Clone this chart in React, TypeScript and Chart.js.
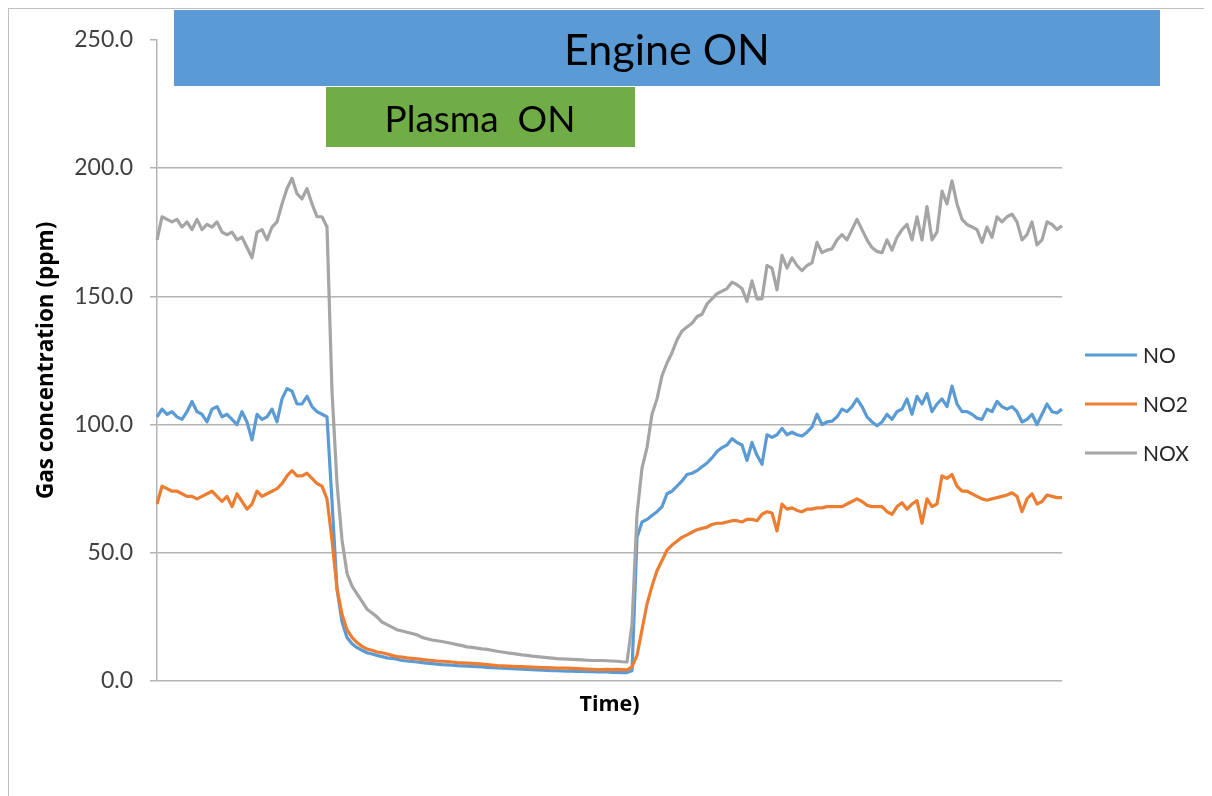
import React, { useEffect, useRef } from "react";
import { Chart, registerables } from "chart.js";

Chart.register(...registerables);

// ---- Data ----
const SERIES_NAMES = ["NO", "NO2", "NOX"];
const SERIES_COLORS = ["#5B9BD5", "#ED7D31", "#A5A5A5"];

const NO = [
  103, 106, 104, 105, 103, 102, 105, 109, 105, 104,
  101, 106, 107, 103, 104, 102, 100, 105, 101, 94,
  104, 102, 103, 106, 101, 110, 114, 113, 108, 108,
  111, 107, 105, 104, 103, 70, 36, 23, 17, 14.5,
  13, 12, 11, 10.5, 10, 9.5, 9, 8.8, 8.5, 8,
  7.8, 7.6, 7.4, 7.2, 7, 6.8, 6.6, 6.4, 6.3, 6.2,
  6, 5.9, 5.8, 5.7, 5.6, 5.5, 5.3, 5.2, 5.1, 5,
  4.9, 4.8, 4.7, 4.6, 4.5, 4.4, 4.3, 4.2, 4.1, 4,
  4, 3.9, 3.8, 3.8, 3.7, 3.7, 3.6, 3.6, 3.5, 3.5,
  3.5, 3.4, 3.4, 3.3, 3.3, 4, 56, 62, 63, 64.5,
  66, 68, 73, 74, 76, 78, 80.5, 81, 82, 83.5,
  85, 87, 89.5, 91, 92, 94.5, 93, 92, 86, 93,
  88, 84.5, 96, 95, 96, 98.5, 96, 97, 96, 95.5,
  97, 99, 104, 100, 101, 101.3, 103, 106, 105, 107,
  110, 107, 103, 101, 99.5, 101, 104, 102, 105, 106,
  110, 104, 111, 108, 112, 105, 108, 110, 107, 115,
  108, 105, 105, 104, 102.5, 102, 106, 105, 109, 107,
  106, 107, 105, 101, 102, 104, 100, 104, 108, 105,
  104.5, 106,
];

const NO2 = [
  69, 76, 75, 74, 74, 73, 72, 72, 71, 72,
  73, 74, 72, 70, 72, 68, 73, 70, 67, 69,
  74, 72, 73, 74, 75, 77, 80, 82, 80, 80,
  81, 79, 77, 76, 71, 55, 36, 26, 20, 17,
  15, 13.5, 12.5, 12, 11.3, 11, 10.5, 10, 9.5, 9.3,
  9, 8.8, 8.6, 8.4, 8.2, 8, 7.8, 7.7, 7.6, 7.4,
  7.2, 7.1, 7, 6.9, 6.8, 6.6, 6.4, 6.2, 6, 5.9,
  5.8, 5.7, 5.6, 5.6, 5.5, 5.4, 5.3, 5.2, 5.2, 5.1,
  5, 5, 5, 4.9, 4.8, 4.7, 4.6, 4.5, 4.4, 4.4,
  4.5, 4.4, 4.5, 4.4, 4.3, 5.5, 10, 20, 30, 37,
  43, 47, 51, 53, 54.5, 56, 57, 58, 59, 59.5,
  60, 61, 61.5, 61.5, 62, 62.5, 62.5, 62, 63, 63,
  62.5, 65, 66, 65.5, 58.5, 69, 67, 67.5, 66.5, 66,
  67, 67, 67.5, 67.5, 68, 68, 68, 68, 69, 70,
  71, 70, 68.5, 68, 68, 68, 66, 65, 68, 69.5,
  67, 69, 70.3, 61.5, 71, 68, 69, 80, 79, 80.5,
  76, 74, 74, 73, 72, 71, 70.5, 71, 71.5, 72,
  72.5, 73.4, 72, 66, 71, 73, 69, 70, 72.5, 72,
  71.5, 71.5,
];

const NOX = [
  172, 181, 180, 179, 180, 177, 179, 176, 180, 176,
  178, 177, 179, 175, 174, 175, 172, 173, 169, 165,
  175, 176, 172, 177, 179, 186, 192, 196, 190, 188,
  192, 186, 181, 181, 177, 113, 77, 55, 42, 37,
  34, 31, 28, 26.5, 25, 23, 22, 21, 20, 19.5,
  19, 18.5, 18, 17, 16.5, 16, 15.7, 15.4, 15, 14.6,
  14.2, 13.8, 13.3, 13.1, 12.8, 12.5, 12.3, 12, 11.6, 11.3,
  11, 10.8, 10.5, 10.2, 10, 9.7, 9.5, 9.3, 9.1, 8.9,
  8.7, 8.6, 8.5, 8.4, 8.3, 8.2, 8.1, 8, 8, 8,
  7.9, 7.8, 7.7, 7.5, 7.4, 22, 65, 83, 91, 104,
  110, 119, 124, 128, 133, 136.5, 138, 139.5, 142, 143,
  147, 149, 151, 152, 153, 155.5, 154.5, 153, 148, 156,
  149, 149, 162, 161, 152.5, 166, 161, 165, 162, 160,
  162, 163, 171, 167, 168, 168.5, 172, 174, 172, 176,
  180, 176, 172, 169, 167.5, 167, 172, 168, 173, 176,
  178, 172, 181, 172, 185, 172, 175, 191, 186, 195,
  186, 180, 178, 177, 176, 171, 177, 173, 181, 179,
  181, 182, 179, 172, 174, 179, 170, 172, 179, 178,
  176, 177.5,
];

const TIME = NO.map((_, i) => String(i + 1));
const Y_TICKS = [0, 50, 100, 150, 200, 250];
const X_TITLE = "Time)";
const Y_TITLE = "Gas concentration (ppm)";
const ENGINE_LABEL = "Engine ON";
const PLASMA_LABEL = "Plasma  ON";

const FONT = "Lato";
const TITLE_FONT = "'Open Sans'";
const GRID = "#B4B4B4";

const overlayPlugin = {
  id: "overlayBoxes",
  afterDraw(chart: any) {
    const ctx = chart.ctx as CanvasRenderingContext2D;
    ctx.save();
    // Engine ON box
    ctx.fillStyle = "#5B9BD5";
    ctx.fillRect(165, 1, 986, 76);
    // Plasma ON box
    ctx.fillStyle = "#70AD47";
    ctx.fillRect(317, 78, 309, 60);
    ctx.fillStyle = "#000000";
    ctx.textAlign = "center";
    ctx.textBaseline = "alphabetic";
    ctx.font = `43px ${FONT}`;
    ctx.fillText(ENGINE_LABEL, 658, 56);
    ctx.font = `37px ${FONT}`;
    ctx.fillText(PLASMA_LABEL, 471, 123);

    // Legend
    chart.data.datasets.forEach((ds: any, i: number) => {
      const y = 346 + i * 49;
      ctx.strokeStyle = ds.borderColor;
      ctx.lineWidth = 3;
      ctx.lineCap = "butt";
      ctx.beginPath();
      ctx.moveTo(1076, y);
      ctx.lineTo(1128, y);
      ctx.stroke();
      ctx.fillStyle = "#262626";
      ctx.textAlign = "left";
      ctx.textBaseline = "middle";
      ctx.font = `21px ${FONT}`;
      ctx.fillText(ds.label, 1134, y + 1);
    });
    ctx.restore();
  },
};

export default function App() {
  const ref = useRef<HTMLCanvasElement>(null);

  useEffect(() => {
    if (!ref.current) return;
    const seriesData = [NO, NO2, NOX];
    const chart = new Chart(ref.current, {
      type: "line",
      data: {
        labels: TIME,
        datasets: SERIES_NAMES.map((name, i) => ({
          label: name,
          data: seriesData[i],
          borderColor: SERIES_COLORS[i],
          backgroundColor: SERIES_COLORS[i],
          borderWidth: 3.2,
          pointRadius: 0,
          tension: 0,
          fill: false,
          borderJoinStyle: "round" as const,
          order: 3 - i,
        })),
      },
      options: {
        animation: false,
        responsive: false,
        layout: { padding: { left: 0, right: 150, top: 28, bottom: 0 } },
        plugins: {
          legend: { display: false },
          tooltip: { enabled: false },
        },
        scales: {
          x: {
            type: "category",
            offset: false,
            grid: { display: false },
            border: { display: false },
            ticks: { display: false },
            title: {
              display: true,
              text: X_TITLE,
              color: "#000000",
              font: { family: TITLE_FONT, size: 21.5, weight: "bold" },
              padding: { top: 0, bottom: 78 },
            },
            afterFit: (s: any) => {
              s.height = 115;
            },
          },
          y: {
            min: 0,
            max: 250,
            afterBuildTicks: (s: any) => {
              s.ticks = Y_TICKS.map((v) => ({ value: v }));
            },
            ticks: {
              callback: (v: any) => Number(v).toFixed(1),
              color: "#404040",
              font: { family: FONT, size: 23 },
              padding: 17,
            },
            grid: {
              color: (c: any) =>
                c.tick && c.tick.value === 250 ? "rgba(0,0,0,0)" : GRID,
              tickColor: GRID,
              tickLength: 7,
              lineWidth: 1.5,
            },
            border: { display: true, color: GRID, width: 1.5 },
            title: {
              display: true,
              text: Y_TITLE,
              color: "#000000",
              font: { family: TITLE_FONT, size: 22.5, weight: "bold" },
              padding: { top: 24, bottom: 0 },
            },
            afterFit: (s: any) => {
              s.width = 148;
            },
          },
        },
      },
      plugins: [overlayPlugin],
    });
    return () => chart.destroy();
  }, []);

  return (
    <div
      style={{
        width: 1204,
        height: 788,
        boxSizing: "border-box",
        borderLeft: "1px solid #BFBFBF",
        borderTop: "1px solid #BFBFBF",
        background: "#ffffff",
      }}
    >
      <canvas ref={ref} width={1203} height={787} style={{ display: "block" }} />
    </div>
  );
}
